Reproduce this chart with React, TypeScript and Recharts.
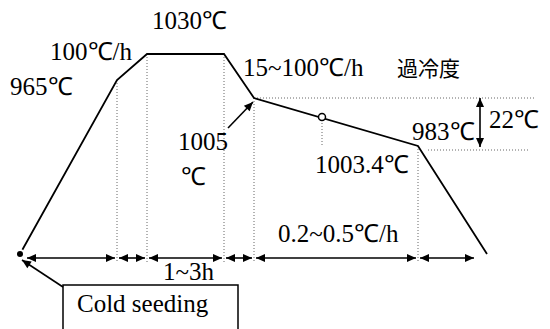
import { ComposedChart, Line, XAxis, YAxis, ReferenceLine, ReferenceDot, ReferenceArea } from 'recharts';

// schematic units: 1 unit = 2px on both axes, level counts up from the bottom
const time = [10, 58.5, 73.5, 112, 127, 209, 243.5];
const level = [37.5, 124.5, 137.5, 137.5, 115.5, 91.5, 37.5];

const marker = { time: 161, level: 106 };
const arrowRow = 35.5;
const spanEdges = [13.5, 58.5, 73.5, 112, 127, 209, 237];
const levelBand = [115.5, 91];

const data = time.map((t, i) => ({ t, v: level[i] }));

const labels = [
  { text: '1030℃', t: 76, v: 150 },
  { text: '100℃/h', t: 25, v: 134.5 },
  { text: '965℃', t: 5, v: 117 },
  { text: '15~100℃/h', t: 121.5, v: 126.5 },
  { text: '過冷度', t: 198.5, v: 126.5, cjk: true },
  { text: '1005', t: 89, v: 89.5 },
  { text: '℃', t: 90.5, v: 72 },
  { text: '1003.4℃', t: 157.5, v: 78 },
  { text: '983℃', t: 206, v: 94.5 },
  { text: '22℃', t: 244.5, v: 100.5 },
  { text: '0.2~0.5℃/h', t: 139, v: 43.5 },
  { text: '1~3h', t: 81.5, v: 24.5 },
  { text: 'Cold seeding', t: 38.5, v: 8.5 },
];

function head(x: number, y: number, fx: number, fy: number, key: string) {
  // triangle pointing at (x,y), coming from (fx,fy)
  const a = Math.atan2(y - fy, x - fx);
  const len = 9;
  const w = 4;
  const bx = x - len * Math.cos(a);
  const by = y - len * Math.sin(a);
  const px = -Math.sin(a) * w;
  const py = Math.cos(a) * w;
  return <polygon key={key} points={`${x},${y} ${bx + px},${by + py} ${bx - px},${by - py}`} fill="#000" />;
}

const arrow = (both: boolean) => (p: any) => (
  <g>
    <line x1={p.x1} y1={p.y1} x2={p.x2} y2={p.y2} stroke="#000" strokeWidth={1.6} />
    {head(p.x2, p.y2, p.x1, p.y1, 'e')}
    {both && head(p.x1, p.y1, p.x2, p.y2, 's')}
  </g>
);

const textShape = (l: any) => (p: any) => (
  <g>
    <text
      x={p.cx}
      y={p.cy}
      style={{ fontFamily: l.cjk ? 'Noto Sans CJK JP' : 'Liberation Serif', fontSize: l.cjk ? 21 : 25 }}
      fill="#000"
    >
      {l.text}
    </text>
  </g>
);

const guide = { stroke: '#666', strokeDasharray: '1 2' };

export default function App() {
  return (
    <div style={{ position: 'absolute', left: 0, top: 0, width: 550, height: 329, background: '#fff' }}>
      <ComposedChart width={550} height={329} data={data} margin={{ top: 0, right: 0, bottom: 0, left: 0 }}>
        <XAxis dataKey="t" type="number" domain={[0, 275]} hide />
        <YAxis type="number" domain={[0, 164.5]} hide />

        {/* dotted guides */}
        {[1, 2, 3, 4, 5].map((i) => (
          <ReferenceLine
            key={`g${i}`}
            segment={[{ x: time[i], y: level[i] }, { x: time[i], y: arrowRow - 2 }]}
            {...guide}
          />
        ))}
        <ReferenceLine segment={[{ x: marker.time, y: marker.level }, { x: marker.time, y: 91.5 }]} {...guide} />
        <ReferenceLine segment={[{ x: time[4], y: level[4] }, { x: 267, y: level[4] }]} {...guide} />
        <ReferenceLine segment={[{ x: 214, y: 89.5 }, { x: 265, y: 89.5 }]} {...guide} />

        {/* time spans */}
        {spanEdges.slice(0, -1).map((s, i) => (
          <ReferenceLine
            key={`s${i}`}
            segment={[{ x: s + (i === 0 ? 0 : 1), y: arrowRow }, { x: spanEdges[i + 1] - (i === 5 ? 0 : 1), y: arrowRow }]}
            shape={arrow(true)}
          />
        ))}

        {/* supercooling range and pointers */}
        <ReferenceLine segment={[{ x: 240, y: levelBand[0] }, { x: 240, y: levelBand[1] }]} shape={arrow(true)} />
        <ReferenceLine segment={[{ x: 114, y: 100.5 }, { x: 126.5, y: 113.5 }]} shape={arrow(false)} />
        <ReferenceLine segment={[{ x: 31.5, y: 21 }, { x: 11, y: 34.5 }]} shape={arrow(false)} />

        <ReferenceArea x1={31.5} x2={119} y1={-5} y2={22} fill="#fff" fillOpacity={1} stroke="#000" strokeWidth={1.5} ifOverflow="visible" />

        <Line dataKey="v" type="linear" stroke="#000" strokeWidth={1.8} dot={false} isAnimationActive={false} />
        <ReferenceDot x={marker.time} y={marker.level} r={3.5} fill="#fff" stroke="#000" strokeWidth={1.5} />

        {labels.map((l, i) => (
          <ReferenceDot key={`l${i}`} x={l.t} y={l.v} r={0} shape={textShape(l)} />
        ))}
      </ComposedChart>
    </div>
  );
}
